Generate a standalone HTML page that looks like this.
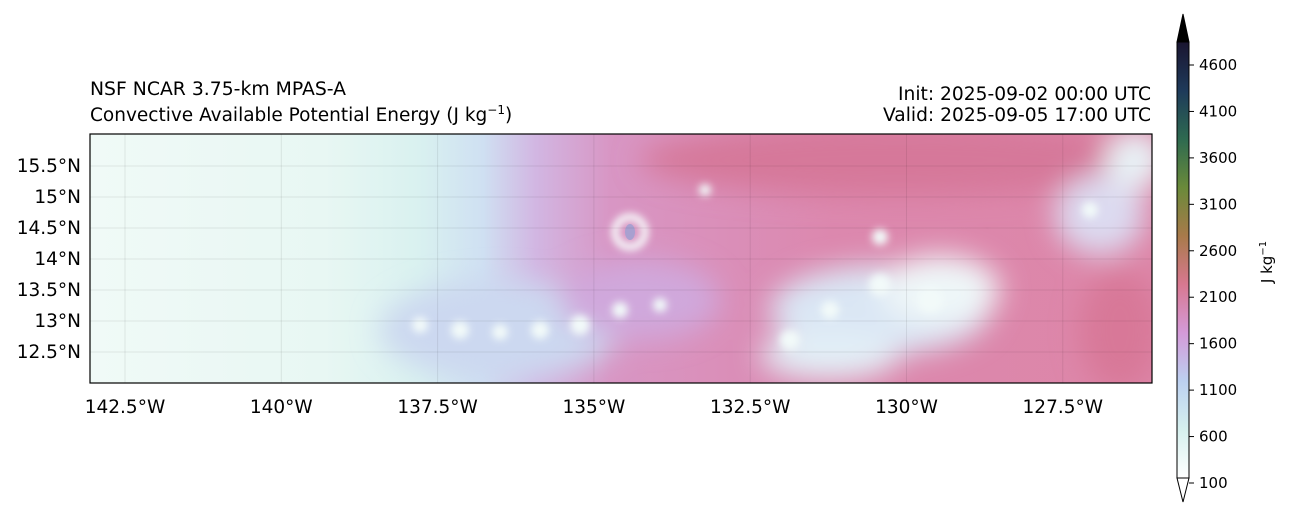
<!DOCTYPE html>
<html><head><meta charset="utf-8"><style>
body{margin:0;background:#fff;width:1299px;height:520px;overflow:hidden;font-family:"Liberation Sans","DejaVu Sans",sans-serif}
svg text{font-family:"DejaVu Sans","Liberation Sans",sans-serif;font-size:15px;fill:#000}
svg text.big{font-size:18.5px}
</style></head><body>
<svg width="1299" height="520" viewBox="0 0 1299 520">
<defs>
<linearGradient id="bg" x1="0" x2="1" y1="0" y2="0">
<stop offset="0" stop-color="#f0faf7"/><stop offset="0.22" stop-color="#e8f7f3"/>
<stop offset="0.31" stop-color="#d9f1f0"/><stop offset="0.37" stop-color="#cfe0f2"/>
<stop offset="0.42" stop-color="#d2b6e2"/><stop offset="0.49" stop-color="#d896c4"/>
<stop offset="0.7" stop-color="#dc88ae"/><stop offset="1" stop-color="#dd86a8"/></linearGradient>
<linearGradient id="cb" x1="0" x2="0" y1="1" y2="0">
<stop offset="0" stop-color="#ffffff"/><stop offset="0.111" stop-color="#d6f0ee"/>
<stop offset="0.222" stop-color="#bcd0f0"/><stop offset="0.333" stop-color="#d49ad8"/>
<stop offset="0.444" stop-color="#d87890"/><stop offset="0.555" stop-color="#a87a4a"/>
<stop offset="0.666" stop-color="#6a8a3a"/><stop offset="0.777" stop-color="#2e6a50"/>
<stop offset="0.888" stop-color="#1e3a5a"/><stop offset="1" stop-color="#1a1530"/></linearGradient>
<filter id="bl" x="-50%" y="-50%" width="200%" height="200%"><feGaussianBlur stdDeviation="14"/></filter>
<filter id="bs" x="-50%" y="-50%" width="200%" height="200%"><feGaussianBlur stdDeviation="4"/></filter>
<clipPath id="mc"><rect x="90" y="134" width="1062" height="249"/></clipPath>
</defs>
<g clip-path="url(#mc)">
<rect x="90" y="134" width="1062" height="249" fill="url(#bg)"/>
<g filter="url(#bl)">
<ellipse cx="900" cy="160" rx="260" ry="35" fill="#d6789a"/>
<ellipse cx="500" cy="330" rx="120" ry="50" fill="#ccd8f0"/>
<ellipse cx="640" cy="300" rx="80" ry="40" fill="#d0a8dc"/>
<ellipse cx="880" cy="310" rx="110" ry="45" fill="#dae6f4"/>
<ellipse cx="940" cy="290" rx="60" ry="35" fill="#eef6f8"/>
<ellipse cx="830" cy="355" rx="70" ry="25" fill="#e2eef6"/>
<ellipse cx="1100" cy="215" rx="45" ry="40" fill="#dcdaf0"/>
<ellipse cx="1135" cy="160" rx="30" ry="30" fill="#e8f2f6"/>
<ellipse cx="1120" cy="330" rx="40" ry="60" fill="#d87898"/>
</g>
<g filter="url(#bs)" fill="#f2faf9">
<circle cx="420" cy="325" r="8"/><circle cx="460" cy="330" r="9"/><circle cx="500" cy="332" r="8"/><circle cx="540" cy="330" r="9"/><circle cx="580" cy="325" r="10"/><circle cx="620" cy="310" r="8"/><circle cx="660" cy="305" r="7"/><circle cx="790" cy="340" r="10"/><circle cx="830" cy="310" r="9"/><circle cx="880" cy="285" r="11"/><circle cx="930" cy="300" r="13"/><circle cx="880" cy="237" r="8"/><circle cx="705" cy="190" r="6"/><circle cx="1090" cy="210" r="8"/>
</g>
<circle cx="630" cy="232" r="15" fill="none" stroke="#f8fdfc" stroke-width="7" filter="url(#bs)"/>
<ellipse cx="630" cy="232" rx="5" ry="8" fill="#a8a0d0"/>
</g>
<g stroke="#000" stroke-opacity="0.08" stroke-width="1" id="grid"></g>
<rect x="90" y="134" width="1062" height="249" fill="none" stroke="#000" stroke-width="1.2"/>
<g id="xt"></g>
<g id="yt"></g>
<text class="big" x="90" y="95" textLength="256" lengthAdjust="spacingAndGlyphs">NSF NCAR 3.75-km MPAS-A</text>
<text class="big" x="90" y="121">Convective Available Potential Energy (J kg<tspan dy="-7" font-size="12">−1</tspan><tspan dy="7">)</tspan></text>
<text class="big" x="1151" y="100" text-anchor="end" textLength="253" lengthAdjust="spacingAndGlyphs">Init: 2025-09-02 00:00 UTC</text>
<text class="big" x="1151" y="121" text-anchor="end" textLength="268" lengthAdjust="spacingAndGlyphs">Valid: 2025-09-05 17:00 UTC</text>
<g>
<polygon points="1177,42 1183,14 1189,42" fill="#000" stroke="#000"/>
<rect x="1177" y="42" width="12" height="436" fill="url(#cb)"/>
<polygon points="1177,478 1183,502 1189,478" fill="#fff" stroke="#000"/>
<rect x="1177" y="42" width="12" height="436" fill="none" stroke="#000" stroke-width="1"/>
<g id="ct"></g>
<text transform="translate(1272,262) rotate(-90)" text-anchor="middle" font-size="14">J kg<tspan dy="-6" font-size="10">−1</tspan></text>
</g>
</svg>
<script>
const lonTicks=[-142.5,-140,-137.5,-135,-132.5,-130,-127.5];
const latTicks=[12.5,13,13.5,14,14.5,15,15.5];
const cbTicks=[100,600,1100,1600,2100,2600,3100,3600,4100,4600];
const NS='http://www.w3.org/2000/svg';
const xs=l=>125+(l+142.5)/2.5*156.3;
const ys=l=>352-(l-12.5)/0.5*31;
const cy=v=>483-(v-100)/4500*418;
const xt=document.getElementById('xt'),yt=document.getElementById('yt'),g=document.getElementById('grid'),ct=document.getElementById('ct');
function mk(t,a,p){const e=document.createElementNS(NS,t);for(const k in a)e.setAttribute(k,a[k]);p.appendChild(e);return e;}
lonTicks.forEach(l=>{const x=xs(l);
 const ln=mk('line',{x1:x,x2:x,y1:134,y2:383},g);
 const t=mk('text',{x:x,y:413,'text-anchor':'middle','class':'big'},xt);t.textContent=Math.abs(l)+'°W';
 
 });
latTicks.forEach(l=>{const y=ys(l);
 const ln=mk('line',{x1:90,x2:1152,y1:y,y2:y},g);
 const t=mk('text',{x:81,y:y+6,'text-anchor':'end','class':'big'},yt);t.textContent=l+'°N';
 
 });
cbTicks.forEach(v=>{const y=cy(v);
 mk('line',{x1:1189,x2:1194,y1:y,y2:y,stroke:'#000'},ct);
 const t=mk('text',{x:1199,y:y+5},ct);t.textContent=v;
 
 });
</script>
</body></html>
